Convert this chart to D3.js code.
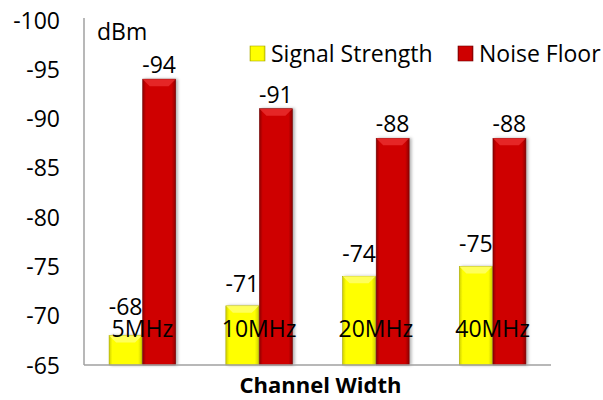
<!DOCTYPE html>
<html>
<head>
<meta charset="utf-8">
<script src="https://cdn.jsdelivr.net/npm/d3@7"></script>
<style>
  body { margin: 0; background: #fff; }
  text { font-family: "Open Sans", sans-serif; fill: #000; }
</style>
</head>
<body>
<svg></svg>
<script>
const categories = ["5MHz", "10MHz", "20MHz", "40MHz"];
const seriesNames = ["Signal Strength", "Noise Floor"];
const signalStrength = [-68, -71, -74, -75];
const noiseFloor = [-94, -91, -88, -88];
const yTicks = [-100, -95, -90, -85, -80, -75, -70, -65];

const svgWidth = 603, svgHeight = 400;
const margin = { top: 20, right: 52, bottom: 35, left: 84 };
const width = svgWidth - margin.left - margin.right;
const height = svgHeight - margin.top - margin.bottom;
const fontSize = "23px";

const svg = d3.select("svg").attr("width", svgWidth).attr("height", svgHeight);

// gradients for the bevelled bars
const defs = svg.append("defs");
function grad(id, edge, mid) {
    const gr = defs.append("linearGradient").attr("id", id)
        .attr("x1", "0%").attr("x2", "100%").attr("y1", "0%").attr("y2", "0%");
    gr.append("stop").attr("offset", "0%").attr("stop-color", edge);
    gr.append("stop").attr("offset", "10%").attr("stop-color", mid);
    gr.append("stop").attr("offset", "88%").attr("stop-color", mid);
    gr.append("stop").attr("offset", "100%").attr("stop-color", edge);
}
grad("gY", "#d0d000", "#ffff00");
grad("gR", "#900000", "#cf0000");
const f = defs.append("filter").attr("id", "sh").attr("x", "-20%").attr("width", "150%");
f.append("feDropShadow").attr("dx", 2).attr("dy", 0).attr("stdDeviation", 1.5)
    .attr("flood-color", "#000").attr("flood-opacity", 0.3);

const g = svg.append("g").attr("transform", "translate(" + margin.left + "," + margin.top + ")");

const x0 = d3.scaleBand().domain(categories).range([0, width]).paddingInner(0.43).paddingOuter(0.215);
const x1 = d3.scaleBand().domain(seriesNames).range([0, x0.bandwidth()]).paddingInner(0.02);
const y = d3.scaleLinear().domain([-65, -100]).range([height, 0]);

const colors = { "Signal Strength": ["url(#gY)", "#a8a800"], "Noise Floor": ["url(#gR)", "#700000"] };
const labelGap = { "Signal Strength": 14, "Noise Floor": 6 };
const catBaseline = y(-67.85);

// y tick labels
g.append("g")
    .attr("transform", "translate(-24,0)")
    .call(d3.axisLeft(y).tickValues(yTicks).tickSize(0).tickPadding(0).tickFormat(d => String(d)))
    .call(s => s.select(".domain").remove())
    .selectAll("text").style("font-size", fontSize).style("font-family", "'Open Sans', sans-serif")
    .attr("dy", "0.35em");

const rows = categories.map((c, i) => ({ cat: c, vals: [
    { name: seriesNames[0], value: signalStrength[i] },
    { name: seriesNames[1], value: noiseFloor[i] }
]}));

const groups = g.selectAll(".grp").data(rows).enter().append("g")
    .attr("transform", d => "translate(" + x0(d.cat) + ",0)");

groups.selectAll("rect").data(d => d.vals).enter().append("rect")
    .attr("x", d => x1(d.name))
    .attr("y", d => y(d.value))
    .attr("width", x1.bandwidth())
    .attr("height", d => y(-65) - y(d.value))
    .attr("fill", d => colors[d.name][0])
    .attr("stroke", d => colors[d.name][1])
    .attr("stroke-width", 0.6)
    .attr("filter", "url(#sh)");

// top bevel highlight
groups.selectAll(".bev").data(d => d.vals).enter().append("path")
    .attr("d", d => {
        const xa = x1(d.name), w = x1.bandwidth(), yt = y(d.value);
        return "M" + xa + "," + yt + "L" + (xa + w) + "," + yt + "L" + (xa + w - 7) + "," + (yt + 7) + "L" + (xa + 7) + "," + (yt + 7) + "Z";
    })
    .attr("fill", d => d.name === "Noise Floor" ? "#ea3030" : "#ffff70")
    .attr("opacity", 0.8);

// value labels, kept clear of the category label underneath
groups.selectAll(".val").data(d => d.vals).enter().append("text")
    .attr("x", d => x1(d.name) + x1.bandwidth() / 2)
    .attr("y", d => Math.min(y(d.value) - labelGap[d.name], catBaseline - 22))
    .attr("text-anchor", "middle")
    .style("font-size", fontSize)
    .text(d => d.value);

// category labels sit inside the plot
groups.append("text")
    .attr("x", x0.bandwidth() / 2)
    .attr("y", catBaseline)
    .attr("text-anchor", "middle")
    .style("font-size", fontSize)
    .text(d => d.cat);

// axis lines
g.append("line").attr("x1", 0).attr("x2", 0).attr("y1", -2).attr("y2", height)
    .attr("stroke", "#a0a0a0").attr("stroke-width", 1.5);
g.append("line").attr("x1", 0).attr("x2", width).attr("y1", height).attr("y2", height)
    .attr("stroke", "#a0a0a0").attr("stroke-width", 1.5);

g.append("text").attr("x", 13).attr("y", 20).style("font-size", fontSize).text("dBm");

g.append("text")
    .attr("x", width / 2 + 3)
    .attr("y", height + 28)
    .attr("text-anchor", "middle")
    .style("font-size", "22px")
    .style("font-weight", "bold")
    .text("Channel Width");

// legend
const legend = svg.append("g").attr("transform", "translate(250,46)");
const items = legend.selectAll("g").data(seriesNames).enter().append("g")
    .attr("transform", (d, i) => "translate(" + (i * 208) + ",0)");
items.append("rect").attr("width", 15).attr("height", 15)
    .attr("fill", d => colors[d][0]).attr("stroke", d => colors[d][1]).attr("stroke-width", 0.6);
items.append("text").attr("x", 21).attr("y", 7.5).attr("dy", "0.35em")
    .style("font-size", fontSize).text(d => d);
</script>
</body>
</html>
